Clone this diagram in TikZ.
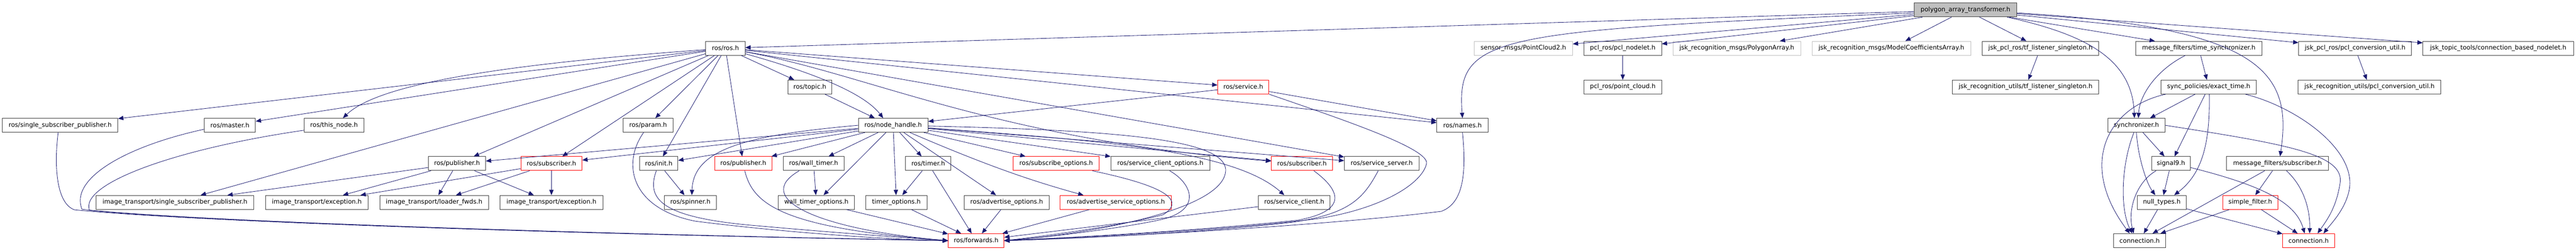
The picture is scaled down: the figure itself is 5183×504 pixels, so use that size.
\documentclass[tikz,border=0pt]{standalone}
\usepackage{fontspec}
\setmainfont{DejaVu Sans}
\usetikzlibrary{arrows.meta,calc}
\definecolor{edgecol}{HTML}{191970}
\definecolor{boxgray}{HTML}{BFBFBF}
\definecolor{boxline}{HTML}{404040}
\newcommand{\nd}[6]{\node[#6,minimum width={(#3-#2)*0.75pt}] (#1) at ({(#2+#3)/2},#4) {#5};}
\begin{document}
\begin{tikzpicture}[x=0.75pt,y=-0.75pt,
  box/.style={draw=boxline,line width=0.75pt,fill=white,minimum height=21pt,inner sep=0pt,font=\fontsize{9.4}{11}\selectfont},
  redbox/.style={box,draw=red},
  graybox/.style={box,draw=boxgray},
  rootbox/.style={box,fill=boxgray},
  dep/.style={draw=edgecol,line width=0.65pt,-{Triangle[length=8pt,width=6.5pt]}}]
\useasboundingbox[fill=white] (0,0) rectangle (5183,504);
% row 0
\nd{root}{3851}{4058}{20}{polygon\_array\_transformer.h}{rootbox}
% row 1
\nd{rosh}{1420}{1499}{97}{ros/ros.h}{box}
\nd{pctwo}{2966}{3164}{97}{sensor\_msgs/PointCloud2.h}{graybox}
\nd{pclnod}{3187}{3343}{97}{pcl\_ros/pcl\_nodelet.h}{box}
\nd{polyarr}{3366}{3623}{97}{jsk\_recognition\_msgs/PolygonArray.h}{graybox}
\nd{modelc}{3646}{3965}{97}{jsk\_recognition\_msgs/ModelCoefficientsArray.h}{graybox}
\nd{tfl}{3988}{4223}{97}{jsk\_pcl\_ros/tf\_listener\_singleton.h}{box}
\nd{timesync}{4297}{4551}{97}{message\_filters/time\_synchronizer.h}{box}
\nd{pclconv}{4625}{4852}{97}{jsk\_pcl\_ros/pcl\_conversion\_util.h}{box}
\nd{cbn}{4875}{5178}{97}{jsk\_topic\_tools/connection\_based\_nodelet.h}{box}
% row 2
\nd{topic}{1585}{1674}{175}{ros/topic.h}{box}
\nd{service}{2450}{2553}{175}{ros/service.h}{redbox}
\nd{pcloud}{3187}{3343}{175}{pcl\_ros/point\_cloud.h}{box}
\nd{rtfl}{3928}{4223}{175}{jsk\_recognition\_utils/tf\_listener\_singleton.h}{box}
\nd{exact}{4348}{4540}{175}{sync\_policies/exact\_time.h}{box}
\nd{rpclconv}{4624}{4911}{175}{jsk\_recognition\_utils/pcl\_conversion\_util.h}{box}
% row 3
\nd{ssp}{5}{237}{252}{ros/single\_subscriber\_publisher.h}{box}
\nd{master}{411}{514}{252}{ros/master.h}{box}
\nd{thisnode}{612}{732}{252}{ros/this\_node.h}{box}
\nd{param}{1254}{1354}{252}{ros/param.h}{box}
\nd{nh}{1727}{1867}{252}{ros/node\_handle.h}{box}
\nd{names}{2891}{2994}{252}{ros/names.h}{box}
\nd{sync}{4241}{4356}{252}{synchronizer.h}{box}
% row 4
\nd{pubA}{862}{977}{329}{ros/publisher.h}{box}
\nd{subA}{1048}{1171}{329}{ros/subscriber.h}{redbox}
\nd{init}{1287}{1364}{329}{ros/init.h}{box}
\nd{pubB}{1438}{1553}{329}{ros/publisher.h}{redbox}
\nd{walltimer}{1576}{1698}{329}{ros/wall\_timer.h}{box}
\nd{timer}{1822}{1913}{329}{ros/timer.h}{box}
\nd{subopt}{2038}{2212}{329}{ros/subscribe\_options.h}{redbox}
\nd{scopt}{2235}{2434}{329}{ros/service\_client\_options.h}{box}
\nd{subB}{2558}{2681}{329}{ros/subscriber.h}{redbox}
\nd{sserver}{2705}{2855}{329}{ros/service\_server.h}{box}
\nd{sig}{4329}{4407}{329}{signal9.h}{box}
\nd{mfsub}{4480}{4685}{329}{message\_filters/subscriber.h}{box}
% row 5
\nd{itssp}{193}{511}{407}{image\_transport/single\_subscriber\_publisher.h}{box}
\nd{itexA}{534}{741}{407}{image\_transport/exception.h}{box}
\nd{itlf}{764}{983}{407}{image\_transport/loader\_fwds.h}{box}
\nd{itexB}{1006}{1213}{407}{image\_transport/exception.h}{box}
\nd{spinner}{1337}{1441}{407}{ros/spinner.h}{box}
\nd{wto}{1566}{1719}{407}{wall\_timer\_options.h}{box}
\nd{topt}{1742}{1865}{407}{timer\_options.h}{box}
\nd{advopt}{1940}{2111}{407}{ros/advertise\_options.h}{box}
\nd{asopt}{2133}{2357}{407}{ros/advertise\_service\_options.h}{redbox}
\nd{sclient}{2532}{2676}{407}{ros/service\_client.h}{box}
\nd{nulltypes}{4300}{4399}{407}{null\_types.h}{box}
\nd{sfilter}{4472}{4583}{407}{simple\_filter.h}{redbox}
% row 6
\nd{fwd}{1908}{2020}{484}{ros/forwards.h}{redbox}
\nd{connA}{4253}{4357}{484}{connection.h}{box}
\nd{connB}{4593}{4697}{484}{connection.h}{redbox}

% ---- root edges
\draw[dep] (root) -- (rosh);
\draw[dep] (root) -- (pctwo);
\draw[dep] (root) -- (pclnod);
\draw[dep] (root) -- (polyarr);
\draw[dep] (root) -- (modelc);
\draw[dep] (root) -- (tfl);
\draw[dep] (root) -- (timesync);
\draw[dep] (root) -- (pclconv);
\draw[dep] (root) -- (cbn);
\draw[dep] ($(root.west)+(0,6)$) .. controls (3000,62) and (2930,70) .. (names.north);
\draw[dep] ($(root.south east)+(-20,0)$) .. controls (4200,70) and (4290,120) .. ($(sync.north)+(-4,0)$);
\draw[dep] ($(root.east)+(0,6)$) .. controls (4560,55) and (4612,150) .. ($(mfsub.north)+(5,0)$);
% ---- ros.h edges
\draw[dep] (rosh) -- (ssp);
\draw[dep] (rosh) -- (master);
\draw[dep] (rosh) .. controls (1000,130) and (760,170) .. ($(thisnode.north)+(18,0)$);
\draw[dep] (rosh) -- (itssp);
\draw[dep] (rosh) -- (pubA);
\draw[dep] (rosh) -- (subA);
\draw[dep] (rosh) -- (param);
\draw[dep] (rosh) -- (init);
\draw[dep] (rosh) -- (pubB);
\draw[dep] (rosh) -- (topic);
\draw[dep] (rosh) .. controls (1650,150) and (1740,190) .. ($(nh.north)+(-20,0)$);
\draw[dep] (rosh) -- (service);
\draw[dep] (rosh) -- (names);
\draw[dep] (rosh) -- (sserver);
\draw[dep] (rosh) .. controls (1750,150) and (2000,280) .. (subB);
\draw[dep] (topic) -- ($(nh.north)+(-37,0)$);
% ---- service.h
\draw[dep] (service) -- (nh);
\draw[dep] (service) -- (names);
\draw[dep] (service.south east) .. controls (2700,240) and (2880,300) .. (2870,330) .. controls (2860,370) and (2780,420) .. (2650,440) .. controls (2450,465) and (2150,478) .. (fwd.east);
% ---- names, server, client etc -> forwards
\draw[dep] (names.south) .. controls (2952,360) and (2940,410) .. (2900,425) .. controls (2700,450) and (2300,475) .. (fwd.east);
\draw[dep] ($(sserver.south)+(-7,0)$) .. controls (2745,395) and (2720,430) .. (2600,447) .. controls (2400,470) and (2150,480) .. (fwd.east);
\draw[dep] ($(subB.south)+(24,0)$) .. controls (2700,385) and (2710,425) .. (2610,443) .. controls (2400,465) and (2150,478) .. (fwd.east);
\draw[dep] (sclient) -- (fwd);
\draw[dep] ($(scopt.south)+(19,0)$) .. controls (2400,370) and (2420,425) .. (2330,443) .. controls (2250,460) and (2100,478) .. (fwd.east);
\draw[dep] ($(subopt.south)+(73,0)$) .. controls (2300,365) and (2400,395) .. (2340,432) .. controls (2250,455) and (2100,475) .. (fwd.east);
\draw[dep] (asopt) -- (fwd);
\draw[dep] (nh) .. controls (2250,262) and (2460,280) .. (2466,340) .. controls (2470,420) and (2200,470) .. (fwd.east);
\draw[dep] (wto) -- (fwd);
\draw[dep] (topt) -- (fwd);
\draw[dep] (timer) -- (fwd);
\draw[dep] (advopt) -- (fwd);
\draw[dep] ($(walltimer.south)+(-29,0)$) .. controls (1510,400) and (1650,462) .. (fwd.west);
\draw[dep] ($(pubB.south)+(3,0)$) .. controls (1515,410) and (1570,458) .. (fwd.west);
\draw[dep] ($(init.south)+(-5,0)$) .. controls (1300,400) and (1330,435) .. (1500,452) .. controls (1700,470) and (1850,480) .. (fwd.west);
\draw[dep] ($(param.south)+(-9,0)$) .. controls (1250,330) and (1270,420) .. (1400,445) .. controls (1600,470) and (1800,482) .. (fwd.west);
\draw[dep] ($(ssp.south)+(-4,0)$) .. controls (108,340) and (115,410) .. (150,422) .. controls (400,447) and (1200,472) .. (fwd.west);
\draw[dep] ($(master.west)+(0,8)$) .. controls (250,295) and (140,360) .. (165,421) .. controls (400,446) and (1200,471) .. (fwd.west);
\draw[dep] ($(thisnode.west)+(0,10)$) .. controls (350,300) and (160,370) .. (180,423) .. controls (400,446) and (1200,471) .. (fwd.west);
% ---- node_handle.h
\draw[dep] (nh) -- (pubA);
\draw[dep] (nh) -- (subA);
\draw[dep] (nh) -- (init);
\draw[dep] (nh.west) .. controls (1500,272) and (1395,300) .. ($(spinner.north)+(3,0)$);
\draw[dep] (nh) -- (pubB);
\draw[dep] (nh) -- (walltimer);
\draw[dep] (nh) -- (wto);
\draw[dep] (nh) -- (topt);
\draw[dep] (nh) -- (timer);
\draw[dep] (nh) -- (advopt);
\draw[dep] (nh) .. controls (1990,335) and (2080,365) .. ($(asopt.north)+(-65,0)$);
\draw[dep] (nh) -- (subopt);
\draw[dep] (nh) -- (scopt);
\draw[dep] (nh) -- (subB);
\draw[dep] (nh) -- (sserver);
\draw[dep] (nh) .. controls (2200,282) and (2480,300) .. ($(sclient.north)+(-20,0)$);
% ---- timers, init
\draw[dep] (walltimer) -- (wto);
\draw[dep] (timer) -- (topt);
\draw[dep] (init) -- (spinner);
% ---- image_transport
\draw[dep] (pubA) -- (itssp);
\draw[dep] (pubA) -- (itexA);
\draw[dep] (pubA) -- (itlf);
\draw[dep] (pubA) -- (itexB);
\draw[dep] (subA) -- (itexA);
\draw[dep] (subA) -- (itlf);
\draw[dep] (subA) -- (itexB);
% ---- jsk / pcl
\draw[dep] (tfl) -- (rtfl);
\draw[dep] (pclnod) -- (pcloud);
\draw[dep] (pclconv) -- (rpclconv);
% ---- message_filters
\draw[dep] ($(timesync.south)+(-27,0)$) .. controls (4340,140) and (4305,190) .. ($(sync.north)+(4,0)$);
\draw[dep] (timesync) -- (exact);
\draw[dep] (exact) -- (sync);
\draw[dep] (exact) -- (sig);
\draw[dep] ($(exact.south)+(1,0)$) .. controls (4447,290) and (4430,350) .. ($(nulltypes.north)+(25,0)$);
\draw[dep] ($(exact.south west)+(10,0)$) .. controls (4240,215) and (4180,330) .. ($(connA.north)+(-20,0)$);
\draw[dep] ($(exact.south east)+(-23,0)$) .. controls (4620,215) and (4740,300) .. (4727,380) .. controls (4720,420) and (4690,450) .. ($(connB.north)+(30,0)$);
\draw[dep] ($(sync.south)+(-5,0)$) .. controls (4268,330) and (4265,420) .. ($(connA.north)+(-15,0)$);
\draw[dep] (sync.south) .. controls (4302,320) and (4320,370) .. ($(nulltypes.north)+(-13,0)$);
\draw[dep] (sync) -- (sig);
\draw[dep] (sync.east) .. controls (4600,290) and (4720,310) .. (4708,370) .. controls (4700,420) and (4680,445) .. ($(connB.north)+(18,0)$);
\draw[dep] (sig) -- (nulltypes);
\draw[dep] ($(sig.south)+(-30,0)$) .. controls (4300,365) and (4280,420) .. ($(connA.north)+(-12,0)$);
\draw[dep] ($(sig.east)+(0,8)$) .. controls (4560,375) and (4620,410) .. ($(connB.north)+(-8,0)$);
\draw[dep] (mfsub) -- (connA);
\draw[dep] (mfsub) -- (sfilter);
\draw[dep] ($(mfsub.south)+(18,0)$) .. controls (4640,380) and (4648,430) .. ($(connB.north)+(2,0)$);
\draw[dep] (sfilter) -- (connA);
\draw[dep] (sfilter) -- (connB);
\draw[dep] (nulltypes) -- (connA);
\draw[dep] (nulltypes) -- (connB);
\end{tikzpicture}
\end{document}
